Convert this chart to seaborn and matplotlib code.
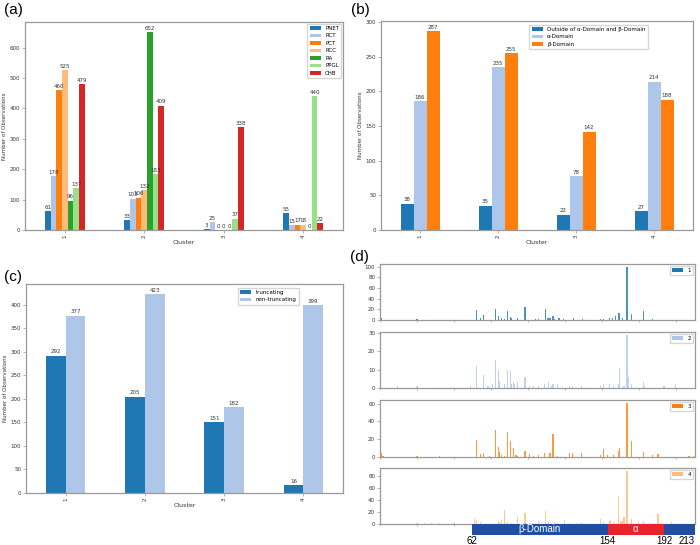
import numpy as np
import pandas as pd
import matplotlib
matplotlib.use("Agg")
import matplotlib.pyplot as plt
import seaborn as sns

# ---- data ----
clusters = ["1", "2", "3", "4"]

# (a) tumour types per cluster
tumor_types = ["PNET", "RCT", "PCT", "RCC", "RA", "PPGL", "CHB"]
pnet = [61, 33, 3, 55]
rct = [178, 103, 25, 15]
pct = [460, 106, 0, 17]
rcc = [525, 132, 0, 18]
ra = [96, 652, 0, 0]
ppgl = [137, 183, 37, 440]
chb = [479, 409, 338, 22]

# (b) domain location per cluster
domain_groups = ["Outside of α-Domain and β-Domain", "α-Domain", "β-Domain"]
outside = [38, 35, 22, 27]
alpha_dom = [186, 235, 78, 214]
beta_dom = [287, 255, 142, 188]

# (c) mutation type per cluster
mut_types = ["truncating", "non-truncating"]
truncating = [292, 205, 151, 16]
non_truncating = [377, 423, 182, 399]

# (d) mutation counts along the protein, per cluster
pos1 = [1, 25, 65, 68, 70, 78, 80, 82, 84, 86, 88, 89, 93, 98, 105, 107, 112, 113, 114,
        115, 117, 118, 121, 124, 131, 137, 149, 151, 155, 157, 159, 161, 162, 164, 167,
        170, 178, 184]
cnt1 = [3, 2, 18, 3, 9, 21, 7, 3, 2, 17, 6, 3, 3, 24, 2, 2, 20, 3, 4,
        3, 8, 2, 3, 2, 3, 2, 2, 2, 3, 3, 7, 13, 14, 4, 100,
        11, 16, 2]
pos2 = [12, 25, 61, 65, 70, 73, 76, 78, 80, 81, 84, 86, 88, 89, 90, 91, 93, 98, 101, 104,
        107, 111, 114, 116, 117, 120, 128, 130, 136, 149, 151, 155, 158, 161, 162, 165,
        167, 168, 170, 178, 179, 192, 200]
cnt2 = [1, 1, 1, 12, 7, 1, 2, 15, 10, 4, 2, 10, 9, 2, 3, 2, 3, 6, 1, 1,
        1, 2, 3, 1, 2, 2, 1, 1, 1, 1, 2, 2, 1, 2, 11, 1,
        29, 6, 2, 3, 1, 1, 2]
pos3 = [1, 2, 25, 40, 65, 68, 70, 74, 78, 80, 81, 82, 84, 86, 88, 90, 92, 93, 98, 101,
        104, 107, 111, 115, 117, 120, 128, 130, 136, 149, 151, 154, 158, 161, 162, 167,
        170, 178, 184, 188, 209, 212]
cnt3 = [4, 1, 1, 1, 19, 3, 4, 1, 30, 11, 6, 2, 1, 28, 18, 10, 2, 1, 7, 3,
        1, 2, 4, 5, 26, 1, 5, 5, 5, 2, 9, 2, 2, 7, 10, 61,
        18, 6, 2, 3, 1, 1]
pos4 = [25, 30, 35, 40, 50, 64, 65, 68, 80, 81, 82, 84, 86, 89, 93, 98, 101, 107, 112, 114,
        118, 120, 125, 128, 133, 136, 149, 151, 155, 156, 158, 161, 163, 164, 165, 167,
        170, 175, 178, 183, 188, 197]
cnt4 = [1, 1, 1, 1, 1, 8, 7, 4, 3, 4, 7, 24, 3, 1, 13, 18, 1, 5, 22, 4,
        3, 2, 7, 2, 2, 2, 8, 3, 5, 6, 4, 46, 5, 5, 12, 89,
        8, 3, 5, 2, 17, 3]

dom_start = [62, 154, 192]
dom_end = [154, 192, 213]
dom_names = ["β-Domain", "α", ""]
dom_ticks = [62, 154, 192, 213]

tab = ["#1f77b4", "#aec7e8", "#ff7f0e", "#ffbb78", "#2ca02c", "#98df8a", "#d62728"]

W, H = 700, 545
fig = plt.figure(figsize=(W / 100, H / 100), dpi=100)


def px_axes(l, t, r, b):
    return fig.add_axes([l / W, 1 - b / H, (r - l) / W, (b - t) / H])


def frame(ax):
    for s in ax.spines.values():
        s.set_color("#999999")
        s.set_linewidth(0.9)
    ax.tick_params(labelsize=4, length=2, width=0.5, pad=1.5,
                   colors="#999999", labelcolor="#333333")


def grouped(ax, series, names, colors, yticks, legend_anchor):
    df = pd.DataFrame({n: v for n, v in zip(names, series)}, index=clusters)
    df = df.reset_index(names="Cluster").melt(id_vars="Cluster", var_name="group",
                                              value_name="n")
    sns.barplot(data=df, x="Cluster", y="n", hue="group", palette=colors, width=0.5,
                saturation=1, errorbar=None, linewidth=0, ax=ax)
    for c in ax.containers:
        ax.bar_label(c, fontsize=4, padding=1, color="#333333")
    ax.set_xlim(-0.5, 3.5)
    ax.set_yticks(yticks)
    frame(ax)
    ax.tick_params(axis="x", labelrotation=90)
    ax.set_xlabel("Cluster", fontsize=4.5, labelpad=1, color="#333333")
    ax.set_ylabel("Number of Observations", fontsize=4, labelpad=2, color="#333333")
    sns.move_legend(ax, "upper right", bbox_to_anchor=legend_anchor, title=None,
                    fontsize=4, handlelength=2.0, handleheight=0.6, labelspacing=0.45,
                    borderaxespad=0.3, frameon=True, edgecolor="#cccccc", fancybox=False)


# (a)
ax_a = px_axes(25, 22, 343, 230)
grouped(ax_a, [pnet, rct, pct, rcc, ra, ppgl, chb], tumor_types, tab[:7],
        range(0, 700, 100), (1.0, 1.0))

# (b)
ax_b = px_axes(381, 21, 693, 230)
grouped(ax_b, [outside, alpha_dom, beta_dom], domain_groups, tab[:3],
        range(0, 350, 50), (0.86, 0.99))

# (c)
ax_c = px_axes(26, 284, 343, 493)
grouped(ax_c, [truncating, non_truncating], mut_types, tab[:2],
        range(0, 450, 50), (0.865, 0.99))

# (d)
d_rows = [(264, 320), (332, 388), (400, 457), (468, 524)]
d_data = [(pos1, cnt1), (pos2, cnt2), (pos3, cnt3), (pos4, cnt4)]
d_colors = [tab[0], tab[1], tab[2], tab[3]]
d_yticks = [range(0, 101, 20), range(0, 31, 10), range(0, 61, 20), range(0, 81, 20)]
for i, ((t, b), (pos, cnt)) in enumerate(zip(d_rows, d_data)):
    ax = px_axes(380, t, 695, b)
    sns.barplot(x=pos, y=cnt, native_scale=True, color=d_colors[i], saturation=1,
                errorbar=None, width=0.8, linewidth=0, alpha=0.8, ax=ax)
    ax.set_xlim(0, 213)
    ax.set_ylim(0, max(cnt) * 1.05)
    ax.set_yticks(d_yticks[i])
    ax.set_xticks(range(0, 213, 25))
    ax.set_xticklabels([])
    frame(ax)
    ax.tick_params(axis="x", length=1.5)
    ax.set_xlabel("")
    ax.set_ylabel("")
    leg = ax.legend([ax.containers[0]], [clusters[i]], loc="upper right", fontsize=4,
                    handlelength=2.0, handleheight=0.6, borderaxespad=0.3, fancybox=False,
                    edgecolor="#cccccc")
    for h in leg.legend_handles:
        h.set_alpha(1)

# protein domain bar under (d)
ax_dom = px_axes(380, 524, 695, 535)
ax_dom.barh(0, np.subtract(dom_end, dom_start), left=dom_start, height=1,
            color=["#1f4ea3", "#e8232b", "#1f4ea3"])
for s, e, name in zip(dom_start, dom_end, dom_names):
    ax_dom.text((s + e) / 2, 0, name, color="white", ha="center", va="center",
                fontsize=7, family=["Liberation Sans", "DejaVu Sans"])
ax_dom.set_xlim(0, 213)
ax_dom.set_ylim(-0.5, 0.5)
ax_dom.patch.set_visible(False)
for s in ax_dom.spines.values():
    s.set_visible(False)
ax_dom.set_yticks([])
ax_dom.set_xticks(dom_ticks)
ax_dom.set_xticklabels([str(v) for v in dom_ticks], fontsize=7,
                       family=["Liberation Sans", "DejaVu Sans"])
ax_dom.get_xticklabels()[-1].set_horizontalalignment("right")
ax_dom.tick_params(axis="x", length=0, pad=0.5)

# panel letters
for x, y, lab in [(4, 3, "(a)"), (351, 3, "(b)"), (4, 270, "(c)"), (350, 250, "(d)")]:
    fig.text(x / W, 1 - y / H, lab, fontsize=11, va="top", ha="left",
             family=["Liberation Sans", "DejaVu Sans"])

fig.savefig("out.png", dpi=100)
